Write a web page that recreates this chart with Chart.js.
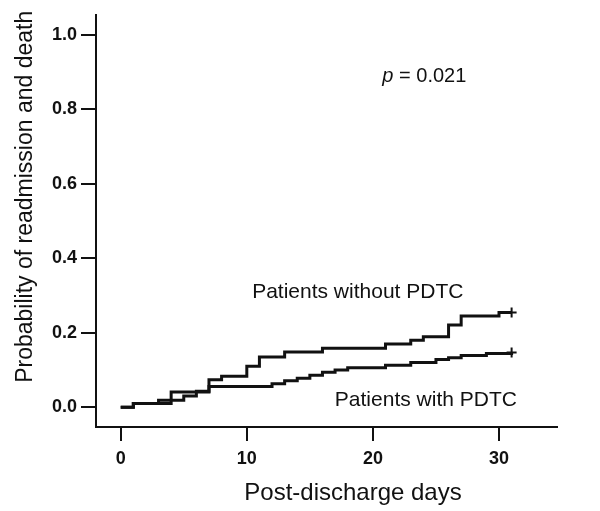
<!DOCTYPE html>
<html>
<head>
<meta charset="utf-8">
<script src="https://cdn.jsdelivr.net/npm/chart.js@4/dist/chart.umd.min.js"></script>
<style>
	html, body { margin: 0; padding: 0; background: #fff; }
	#wrap { width: 600px; height: 511px; }
</style>
</head>
<body>
<div id="wrap"><canvas id="myChart" width="600" height="511"></canvas></div>
<script>
// step times (days) and cumulative probability
var daysWithout = [0, 1, 4, 7, 8, 10, 11, 13, 16, 21, 23, 24, 26, 27, 30, 31]
var probWithout = [0, 0.01, 0.041, 0.074, 0.083, 0.11, 0.135, 0.148, 0.158, 0.17, 0.18, 0.189, 0.221, 0.245, 0.254, 0.254]

var daysWith = [0, 1, 3, 5, 6, 7, 12, 13, 14, 15, 16, 17, 18, 21, 23, 25, 26, 27, 29, 31]
var probWith = [0, 0.01, 0.019, 0.03, 0.043, 0.056, 0.063, 0.071, 0.078, 0.086, 0.094, 0.1, 0.106, 0.113, 0.12, 0.128, 0.133, 0.139, 0.144, 0.147]

var xTicks = [0, 10, 20, 30]
var yTicks = [0, 0.2, 0.4, 0.6, 0.8, 1.0]

var labelWithout = "Patients without PDTC"
var labelWith = "Patients with PDTC"
var pText = " = 0.021"
var xTitle = "Post-discharge days"
var yTitle = "Probability of readmission and death"

var ink = "#111"

function toPoints(days, probs) {
	return days.map(function(d, i){ return {x: d, y: probs[i]} })
}
// only the last point gets the censor "+"
function censorRadius(days) {
	return days.map(function(d, i){ return i == days.length - 1 ? 5 : 0 })
}

var textPlugin = {
	id: 'texts',
	afterDraw: function(chart) {
		var ctx = chart.ctx
		var xs = chart.scales.x, ys = chart.scales.y
		ctx.save()
		ctx.fillStyle = ink
		ctx.textBaseline = 'alphabetic'

		ctx.font = '21px "Liberation Sans", Arial, sans-serif'
		ctx.textAlign = 'center'
		ctx.fillText(labelWithout, xs.getPixelForValue(18.8), ys.getPixelForValue(0.293))
		ctx.fillText(labelWith, xs.getPixelForValue(24.2), ys.getPixelForValue(0.003))

		// p value, italic p
		ctx.textAlign = 'left'
		var px = xs.getPixelForValue(20.75), py = ys.getPixelForValue(0.872)
		ctx.font = 'italic 20px "Liberation Sans", Arial, sans-serif'
		ctx.fillText('p', px, py)
		var w = ctx.measureText('p').width
		ctx.font = '20px "Liberation Sans", Arial, sans-serif'
		ctx.fillText(pText, px + w, py)

		// axis titles
		var area = chart.chartArea
		ctx.font = '24px "Liberation Sans", Arial, sans-serif'
		ctx.textAlign = 'center'
		ctx.fillText(xTitle, area.left + 257, area.bottom + 73)

		ctx.font = '23px "Liberation Sans", Arial, sans-serif'
		ctx.translate(area.left - 64, area.top + 182)
		ctx.rotate(-Math.PI / 2)
		ctx.fillText(yTitle, 0, 0)
		ctx.restore()
	}
}

var canvasCtx = document.getElementById("myChart").getContext('2d')
var config = {
	type: 'line',
	data: {
		datasets: [
			{label: labelWithout, data: toPoints(daysWithout, probWithout), stepped: true, fill: false,
				borderColor: ink, borderWidth: 3, pointStyle: 'cross', pointRadius: censorRadius(daysWithout),
				pointBorderColor: ink, pointBorderWidth: 2, pointHoverRadius: 0},
			{label: labelWith, data: toPoints(daysWith, probWith), stepped: true, fill: false,
				borderColor: ink, borderWidth: 3, pointStyle: 'cross', pointRadius: censorRadius(daysWith),
				pointBorderColor: ink, pointBorderWidth: 2, pointHoverRadius: 0}
		]
	},
	options: {
		responsive: false,
		maintainAspectRatio: false,
		animation: false,
		layout: { padding: {left: 0, top: 12, right: 43, bottom: 0} },
		plugins: { legend: {display: false}, tooltip: {enabled: false} },
		scales: {
			x: {
				type: 'linear', min: -1.96, max: 34.6,
				afterBuildTicks: function(s){ s.ticks = xTicks.map(function(v){ return {value: v} }) },
				afterFit: function(s){ s.height = 84 },
				grid: {drawOnChartArea: false, drawTicks: true, tickLength: 14, color: ink, lineWidth: 2},
				border: {display: true, color: ink, width: 2},
				ticks: {color: ink, padding: 7, maxRotation: 0, font: {family: '"Liberation Sans", Arial', size: 18, weight: 'bold'}}
			},
			y: {
				type: 'linear', min: -0.053, max: 1.053,
				afterBuildTicks: function(s){ s.ticks = yTicks.map(function(v){ return {value: v} }) },
				afterFit: function(s){ s.width = 96 },
				grid: {drawOnChartArea: false, drawTicks: true, tickLength: 15, color: ink, lineWidth: 2},
				border: {display: true, color: ink, width: 2},
				ticks: {color: ink, padding: 4, font: {family: '"Liberation Sans", Arial', size: 18, weight: 'bold'},
					callback: function(v){ return v.toFixed(1) }}
			}
		}
	},
	plugins: [textPlugin]
}
var myChart = new Chart(canvasCtx, config)
</script>
</body>
</html>
